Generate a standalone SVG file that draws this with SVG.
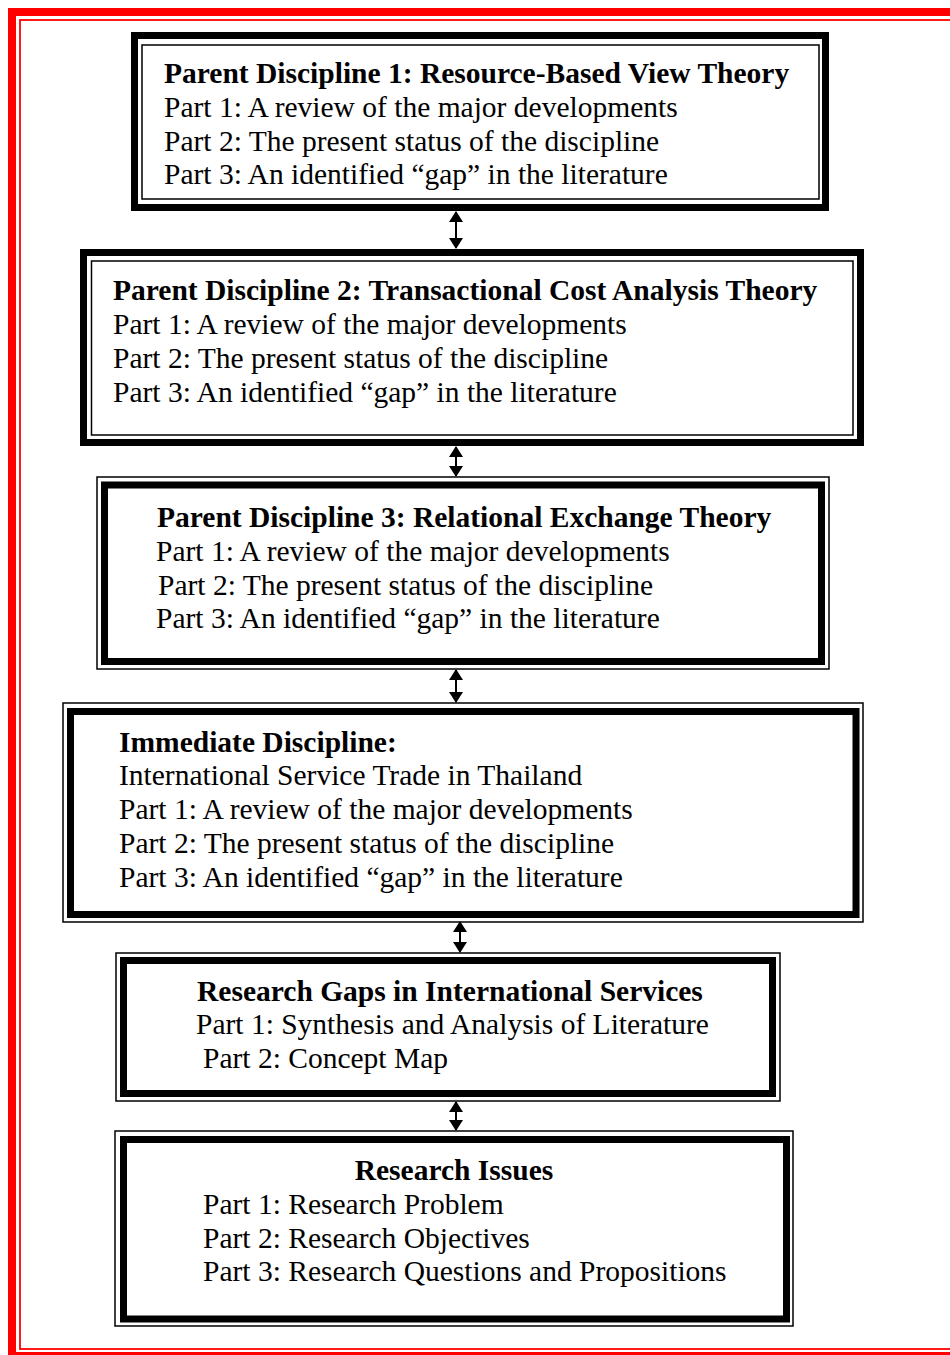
<svg xmlns="http://www.w3.org/2000/svg" width="950" height="1355" viewBox="0 0 950 1355">
<style>
text{font-family:"Liberation Serif","Times New Roman",serif;font-size:29.5px;fill:#000}
.b{font-weight:bold}
.thick{fill:none;stroke:#000;stroke-width:7}
.thin{fill:none;stroke:#000;stroke-width:1.5}
.conn{stroke:#000;stroke-width:2;fill:none;marker-start:url(#ah);marker-end:url(#ah)}
</style>
<defs>
<marker id="ah" markerUnits="userSpaceOnUse" markerWidth="11" markerHeight="14" refX="10" refY="7" orient="auto-start-reverse" viewBox="0 0 11 14">
<path d="M0,0 L11,7 L0,14 Z" fill="#000"/>
</marker>
</defs>
<rect width="950" height="1355" fill="#fff"/>
<g id="frame">
<rect x="12" y="12" width="960" height="1344" fill="none" stroke="#f00" stroke-width="8"/>
<rect x="20" y="20" width="950" height="1329" fill="none" stroke="#f00" stroke-width="1.8"/>
</g>
<g id="connectors">
<line class="conn" x1="456" y1="212" x2="456" y2="248"/>
<line class="conn" x1="456" y1="447" x2="456" y2="476"/>
<line class="conn" x1="456" y1="670" x2="456" y2="702"/>
<line class="conn" x1="460" y1="922" x2="460" y2="952"/>
<line class="conn" x1="456" y1="1102" x2="456" y2="1130"/>
</g>
<g id="box1">
<rect class="thick" x="134.5" y="35.5" width="691" height="172"/>
<rect class="thin" x="142" y="45" width="677" height="154"/>
<text class="b" x="164" y="83">Parent Discipline 1: Resource-Based View Theory</text>
<text x="164" y="117">Part 1: A review of the major developments</text>
<text x="164" y="151">Part 2: The present status of the discipline</text>
<text x="164" y="184">Part 3: An identified “gap” in the literature</text>
</g>
<g id="box2">
<rect class="thick" x="83.5" y="252.5" width="777" height="190"/>
<rect class="thin" x="91.5" y="261" width="761.5" height="174"/>
<text class="b" x="113" y="300">Parent Discipline 2: Transactional Cost Analysis Theory</text>
<text x="113" y="334">Part 1: A review of the major developments</text>
<text x="113" y="368">Part 2: The present status of the discipline</text>
<text x="113" y="402">Part 3: An identified “gap” in the literature</text>
</g>
<g id="box3">
<rect class="thin" x="97" y="477" width="732" height="192"/>
<rect class="thick" x="104.5" y="485" width="717" height="176.5"/>
<text class="b" x="157" y="527">Parent Discipline 3: Relational Exchange Theory</text>
<text x="156" y="561">Part 1: A review of the major developments</text>
<text x="158" y="595">Part 2: The present status of the discipline</text>
<text x="156" y="628">Part 3: An identified “gap” in the literature</text>
</g>
<g id="box4">
<rect class="thin" x="63" y="703" width="800" height="219"/>
<rect class="thick" x="70.5" y="711.5" width="785.5" height="203"/>
<text class="b" x="119" y="752">Immediate Discipline:</text>
<text x="119" y="785">International Service Trade in Thailand</text>
<text x="119" y="819">Part 1: A review of the major developments</text>
<text x="119" y="853">Part 2: The present status of the discipline</text>
<text x="119" y="887">Part 3: An identified “gap” in the literature</text>
</g>
<g id="box5">
<rect class="thin" x="116" y="953" width="664" height="148"/>
<rect class="thick" x="123.5" y="960.5" width="649" height="133"/>
<text class="b" x="197" y="1001">Research Gaps in International Services</text>
<text x="196" y="1034">Part 1: Synthesis and Analysis of Literature</text>
<text x="203" y="1068">Part 2: Concept Map</text>
</g>
<g id="box6">
<rect class="thin" x="115" y="1131" width="678" height="195"/>
<rect class="thick" x="123.5" y="1139.5" width="663" height="179.5"/>
<text class="b" x="454" y="1180" text-anchor="middle">Research Issues</text>
<text x="203" y="1214">Part 1: Research Problem</text>
<text x="203" y="1248">Part 2: Research Objectives</text>
<text x="203" y="1281">Part 3: Research Questions and Propositions</text>
</g>
</svg>
